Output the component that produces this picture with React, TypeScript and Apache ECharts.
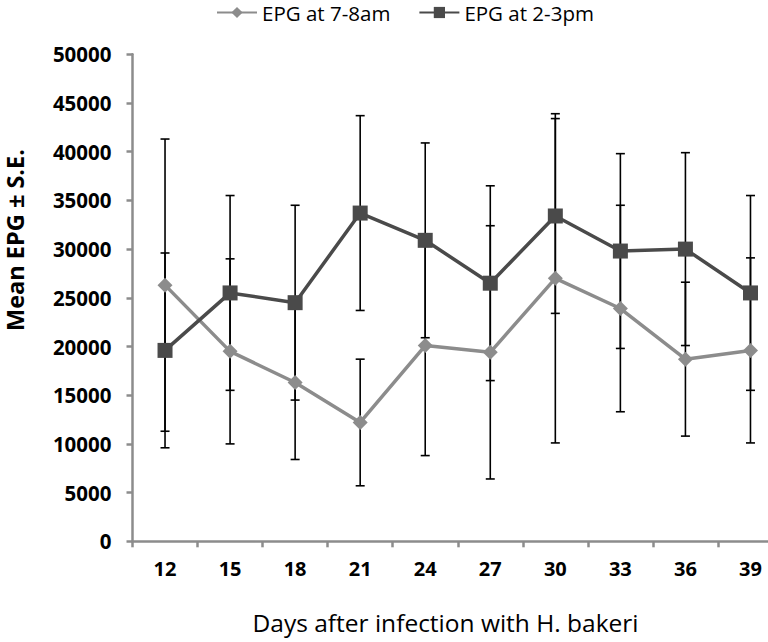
import React, { useEffect, useRef } from "react";
import * as echarts from "echarts";

const days = ["12", "15", "18", "21", "24", "27", "30", "33", "36", "39"];
const epgMorning = [26300, 19500, 16300, 12200, 20100, 19400, 27000, 23900, 18700, 19600];
const seMorning = [15000, 9500, 7900, 6500, 11300, 13000, 16900, 10600, 7900, 9500];
const epgAfternoon = [19600, 25500, 24500, 33700, 30900, 26500, 33400, 29800, 30000, 25500];
const seAfternoon = [10000, 10000, 10000, 10000, 10000, 10000, 10000, 10000, 9900, 10000];
const yMin = 0;
const yMax = 50000;
const yStep = 5000;

const seriesNames = ["EPG at 7-8am", "EPG at 2-3pm"];
const xTitle = "Days after infection with H. bakeri";
const yTitle = "Mean EPG ± S.E.";

const FONT = "'Open Sans', 'Noto Sans', sans-serif";

export default function App() {
  const ref = useRef<HTMLDivElement>(null);

  useEffect(() => {
    document.body.style.margin = "0";
    if (!ref.current) return;
    const chart = echarts.init(ref.current, null, { renderer: "svg" });

    const errData: number[][] = [];
    days.forEach((_, i) => {
      errData.push([i, epgMorning[i] - seMorning[i], epgMorning[i] + seMorning[i]]);
      errData.push([i, epgAfternoon[i] - seAfternoon[i], epgAfternoon[i] + seAfternoon[i]]);
    });

    const renderErr = (params: any, api: any) => {
      const x = api.value(0);
      const lo = api.coord([x, api.value(1)]);
      const hi = api.coord([x, api.value(2)]);
      const cw = 4.5;
      const style = { stroke: "#000", lineWidth: 1.6 };
      return {
        type: "group",
        children: [
          { type: "line", shape: { x1: lo[0], y1: lo[1], x2: hi[0], y2: hi[1] }, style },
          { type: "line", shape: { x1: hi[0] - cw, y1: hi[1], x2: hi[0] + cw, y2: hi[1] }, style },
          { type: "line", shape: { x1: lo[0] - cw, y1: lo[1], x2: lo[0] + cw, y2: lo[1] }, style },
        ],
      };
    };

    chart.setOption({
      animation: false,
      backgroundColor: "#fff",
      textStyle: { fontFamily: FONT },
      legend: {
        left: 216,
        top: 2,
        padding: 0,
        itemWidth: 40,
        itemHeight: 14,
        itemGap: 28,
        data: seriesNames,
        textStyle: { fontFamily: FONT, fontSize: 20.5, color: "#000", lineHeight: 20 },
      },
      grid: { left: 132.5, right: 0, top: 54.3, bottom: 100.7, containLabel: false },
      xAxis: {
        type: "category",
        data: days,
        boundaryGap: true,
        axisLine: { lineStyle: { color: "#8c8c8c", width: 2.5 } },
        axisTick: { show: true, length: 6, lineStyle: { color: "#8c8c8c", width: 2.5 } },
        axisLabel: {
          margin: 17,
          fontFamily: FONT,
          fontSize: 20,
          fontWeight: "bold",
          color: "#000",
          interval: 0,
        },
        splitLine: { show: false },
      },
      yAxis: {
        type: "value",
        min: yMin,
        max: yMax,
        interval: yStep,
        axisLine: { show: true, lineStyle: { color: "#8c8c8c", width: 2.5 } },
        axisTick: { show: true, length: 6, lineStyle: { color: "#8c8c8c", width: 2.5 } },
        axisLabel: {
          margin: 21,
          fontFamily: FONT,
          fontSize: 20.5,
          fontWeight: "bold",
          color: "#000",
          formatter: (v: number) => String(v),
        },
        splitLine: { show: false },
      },
      graphic: [
        {
          type: "text",
          x: 15,
          y: 240,
          rotation: Math.PI / 2,
          style: {
            text: yTitle,
            fontFamily: FONT,
            fontSize: 23.5,
            fontWeight: "bold",
            fill: "#000",
            lineHeight: 24,
            textAlign: "center",
            textVerticalAlign: "middle",
          },
        },
        {
          type: "text",
          x: 445.5,
          y: 622,
          style: {
            text: xTitle,
            fontFamily: FONT,
            fontSize: 24.5,
            fill: "#000",
            textAlign: "center",
            textVerticalAlign: "middle",
          },
        },
      ],
      series: [
        {
          type: "custom",
          name: "errors",
          renderItem: renderErr,
          data: errData,
          encode: { x: 0, y: [1, 2] },
          z: 1,
          silent: true,
        },
        {
          type: "line",
          name: seriesNames[0],
          data: epgMorning,
          symbol: "diamond",
          symbolSize: 15,
          lineStyle: { color: "#8c8c8c", width: 3.5 },
          itemStyle: { color: "#8c8c8c" },
          z: 3,
        },
        {
          type: "line",
          name: seriesNames[1],
          data: epgAfternoon,
          symbol: "rect",
          symbolSize: 15,
          lineStyle: { color: "#4a4a4a", width: 3.5 },
          itemStyle: { color: "#4a4a4a" },
          z: 4,
        },
      ],
    });

    return () => chart.dispose();
  }, []);

  return (
    <div style={{ position: "absolute", left: 0, top: 0, width: 768, height: 642, overflow: "hidden" }}>
      <div ref={ref} style={{ position: "absolute", left: 0, top: 0, width: 783, height: 642 }} />
    </div>
  );
}
